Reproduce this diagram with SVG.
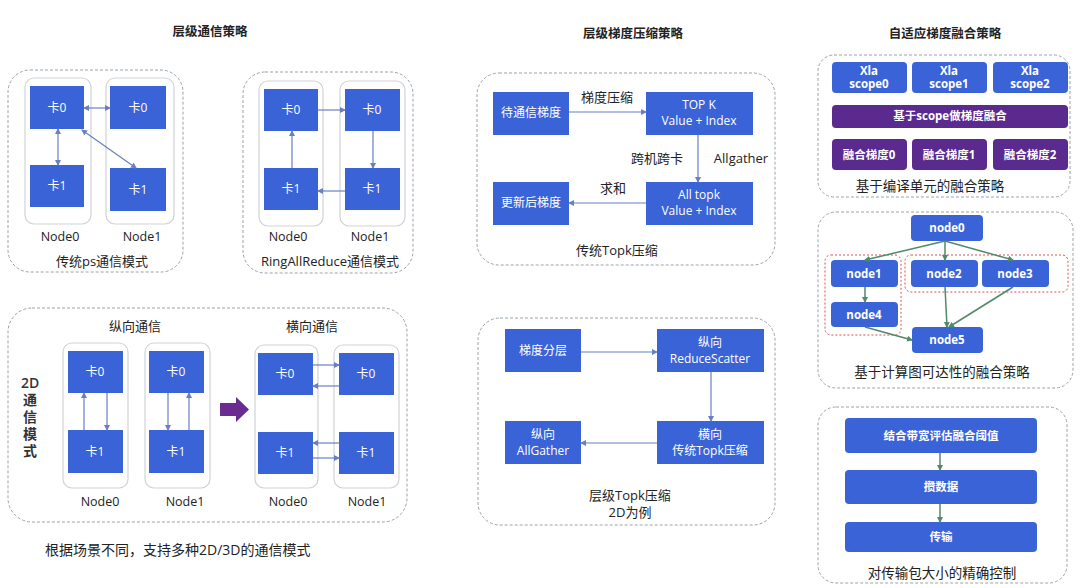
<svg xmlns="http://www.w3.org/2000/svg" width="1080" height="588" viewBox="0 0 1080 588">
<style>
text{font-family:"Open Sans","Noto Sans CJK SC",sans-serif;}
.t{font-size:12.5px;font-weight:bold;fill:#222;text-anchor:middle}
.lb{font-size:13px;fill:#222;text-anchor:middle}
.nl{font-size:12.5px;fill:#222;text-anchor:middle}
.cap{font-size:13.5px;fill:#222;text-anchor:middle}
.bt{font-size:12px;fill:#fff;text-anchor:middle}
.bb{font-size:11.5px;fill:#fff;text-anchor:middle;font-weight:bold}
.outer{fill:none;stroke:#9aa3ad;stroke-width:1;stroke-dasharray:3 2}
.ctn{fill:#fff;stroke:#cfd3d8;stroke-width:1.2}
.blue{fill:#3b63d8}
.rblue{fill:#3b63d8}
.purp{fill:#5a2a8e}
.red{fill:none;stroke:#d9534f;stroke-width:1;stroke-dasharray:2 2}
.ln{fill:none;stroke:#6a7fc0;stroke-width:1.2}
.gn{fill:none;stroke:#4f8a6a;stroke-width:1.5}
</style>
<defs>
<marker id="a" viewBox="0 0 6 6" refX="5" refY="3" markerWidth="5" markerHeight="5" orient="auto-start-reverse"><path d="M0,0L6,3L0,6z" fill="#6a7fc0"/></marker>
<marker id="g" viewBox="0 0 6 6" refX="5" refY="3" markerWidth="4" markerHeight="4" orient="auto"><path d="M0,0L6,3L0,6z" fill="#4f8a6a"/></marker>
</defs>
<rect width="1080" height="588" fill="#fff"/>

<g id="titles">
<text class="t" x="210" y="36">层级通信策略</text>
<text class="t" x="633" y="38">层级梯度压缩策略</text>
<text class="t" x="945" y="38">自适应梯度融合策略</text>
</g>

<g id="ps">
<rect class="outer" x="8" y="70" width="175" height="202" rx="22"/>
<rect class="ctn" x="25" y="78" width="66" height="146" rx="9"/>
<rect class="ctn" x="106" y="78" width="68" height="146" rx="9"/>
<rect class="blue" x="30" y="86" width="54" height="43"/><text class="bt" x="57" y="112">卡0</text>
<rect class="blue" x="30" y="165" width="54" height="42"/><text class="bt" x="57" y="190">卡1</text>
<rect class="blue" x="110" y="86" width="56" height="43"/><text class="bt" x="138" y="112">卡0</text>
<rect class="blue" x="110" y="168" width="56" height="43"/><text class="bt" x="138" y="194">卡1</text>
<text class="nl" x="60" y="241">Node0</text>
<text class="nl" x="142" y="241">Node1</text>
<text class="lb" x="102" y="266">传统ps通信模式</text>
</g>

<g id="ring">
<rect class="outer" x="243" y="72" width="170" height="201" rx="22"/>
<rect class="ctn" x="259" y="81" width="64" height="145" rx="9"/>
<rect class="ctn" x="340" y="81" width="65" height="145" rx="9"/>
<rect class="blue" x="264" y="89" width="54" height="42"/><text class="bt" x="291" y="114">卡0</text>
<rect class="blue" x="264" y="168" width="54" height="42"/><text class="bt" x="291" y="193">卡1</text>
<rect class="blue" x="345" y="89" width="55" height="42"/><text class="bt" x="372" y="114">卡0</text>
<rect class="blue" x="345" y="168" width="55" height="42"/><text class="bt" x="372" y="193">卡1</text>
<text class="nl" x="288" y="241">Node0</text>
<text class="nl" x="370" y="241">Node1</text>
<text class="lb" x="330" y="266">RingAllReduce通信模式</text>
</g>

<g id="twod">
<rect class="outer" x="8" y="308" width="399" height="214" rx="24"/>
<text class="lb" x="135" y="331">纵向通信</text>
<text class="lb" x="312" y="331">横向通信</text>
<g font-size="14" font-weight="600" fill="#333">
<text x="21" y="388">2D</text>
<text x="23" y="405">通</text>
<text x="23" y="422">信</text>
<text x="23" y="439">模</text>
<text x="23" y="456">式</text>
</g>
<rect class="ctn" x="63" y="343" width="65" height="145" rx="9"/>
<rect class="ctn" x="145" y="343" width="65" height="145" rx="9"/>
<rect class="blue" x="68" y="351" width="55" height="42"/><text class="bt" x="95" y="376">卡0</text>
<rect class="blue" x="68" y="430" width="55" height="43"/><text class="bt" x="95" y="456">卡1</text>
<rect class="blue" x="149" y="351" width="55" height="42"/><text class="bt" x="176" y="376">卡0</text>
<rect class="blue" x="149" y="430" width="55" height="43"/><text class="bt" x="176" y="456">卡1</text>
<text class="nl" x="100" y="506">Node0</text>
<text class="nl" x="185" y="506">Node1</text>
<path d="M220,403H236V397L249,409.5L236,422V416H220Z" fill="#6a2c91"/>
<rect class="ctn" x="255" y="345" width="63" height="143" rx="9"/>
<rect class="ctn" x="334" y="345" width="65" height="143" rx="9"/>
<rect class="blue" x="258" y="353" width="55" height="42"/><text class="bt" x="285" y="378">卡0</text>
<rect class="blue" x="258" y="432" width="55" height="42"/><text class="bt" x="285" y="457">卡1</text>
<rect class="blue" x="339" y="353" width="55" height="42"/><text class="bt" x="366" y="378">卡0</text>
<rect class="blue" x="339" y="432" width="55" height="42"/><text class="bt" x="366" y="457">卡1</text>
<text class="nl" x="288" y="506">Node0</text>
<text class="nl" x="367" y="506">Node1</text>
</g>
<text x="45" y="555" font-size="14" fill="#222">根据场景不同，支持多种2D/3D的通信模式</text>

<g id="topk">
<rect class="outer" x="477" y="73" width="298" height="192" rx="22"/>
<rect class="blue" x="493" y="92" width="76" height="43"/><text class="bt" x="531" y="117">待通信梯度</text>
<rect class="blue" x="646" y="92" width="107" height="43"/><text class="bt" x="699" y="109">TOP K</text><text class="bt" x="699" y="125">Value + Index</text>
<rect class="blue" x="646" y="182" width="107" height="43"/><text class="bt" x="699" y="199">All topk</text><text class="bt" x="699" y="215">Value + Index</text>
<rect class="blue" x="493" y="182" width="76" height="43"/><text class="bt" x="531" y="207">更新后梯度</text>
<text class="lb" x="607" y="102">梯度压缩</text>
<text class="lb" x="657" y="163" font-size="14">跨机跨卡</text>
<text class="lb" x="741" y="163" font-size="14">Allgather</text>
<text class="lb" x="613" y="193">求和</text>
<text class="lb" x="617" y="255">传统Topk压缩</text>
</g>

<g id="htopk">
<rect class="outer" x="478" y="318" width="297" height="207" rx="22"/>
<rect class="blue" x="505" y="329" width="76" height="43"/><text class="bt" x="543" y="355">梯度分层</text>
<rect class="blue" x="657" y="329" width="107" height="43"/><text class="bt" x="710" y="347">纵向</text><text class="bt" x="710" y="363">ReduceScatter</text>
<rect class="blue" x="657" y="421" width="107" height="43"/><text class="bt" x="710" y="439">横向</text><text class="bt" x="710" y="455">传统Topk压缩</text>
<rect class="blue" x="505" y="421" width="76" height="43"/><text class="bt" x="543" y="439">纵向</text><text class="bt" x="543" y="455">AllGather</text>
<text class="lb" x="630" y="500">层级Topk压缩</text>
<text class="lb" x="630" y="517">2D为例</text>
</g>

<g id="scope">
<rect class="outer" x="818" y="55" width="252" height="142" rx="16"/>
<rect class="rblue" x="832" y="62" width="75" height="31" rx="4"/><text class="bb" x="869" y="75">Xla</text><text class="bb" x="869" y="88">scope0</text>
<rect class="rblue" x="912" y="62" width="75" height="31" rx="4"/><text class="bb" x="949" y="75">Xla</text><text class="bb" x="949" y="88">scope1</text>
<rect class="rblue" x="993" y="62" width="75" height="31" rx="4"/><text class="bb" x="1030" y="75">Xla</text><text class="bb" x="1030" y="88">scope2</text>
<rect class="purp" x="832" y="105" width="236" height="23" rx="4"/><text class="bb" x="950" y="120">基于scope做梯度融合</text>
<rect class="purp" x="832" y="139" width="75" height="31" rx="4"/><text class="bb" x="869" y="159">融合梯度0</text>
<rect class="purp" x="912" y="139" width="75" height="31" rx="4"/><text class="bb" x="949" y="159">融合梯度1</text>
<rect class="purp" x="993" y="139" width="75" height="31" rx="4"/><text class="bb" x="1030" y="159">融合梯度2</text>
<text class="cap" x="930" y="191">基于编译单元的融合策略</text>
</g>

<g id="graph">
<rect class="outer" x="818" y="212" width="255" height="176" rx="18"/>
<rect class="red" x="825" y="255" width="76" height="80" rx="6"/>
<rect class="red" x="905" y="255" width="163" height="37" rx="6"/>
<rect class="rblue" x="911" y="215" width="72" height="26" rx="4"/><text class="bb" x="947" y="232">node0</text>
<rect class="rblue" x="831" y="260" width="67" height="27" rx="4"/><text class="bb" x="864" y="278">node1</text>
<rect class="rblue" x="911" y="260" width="67" height="27" rx="4"/><text class="bb" x="944" y="278">node2</text>
<rect class="rblue" x="982" y="260" width="67" height="27" rx="4"/><text class="bb" x="1015" y="278">node3</text>
<rect class="rblue" x="831" y="302" width="67" height="25" rx="4"/><text class="bb" x="864" y="319">node4</text>
<rect class="rblue" x="912" y="327" width="71" height="26" rx="4"/><text class="bb" x="947" y="344">node5</text>
<text class="cap" x="942" y="377" font-size="14">基于计算图可达性的融合策略</text>
</g>

<g id="packet">
<rect class="outer" x="818" y="407" width="249" height="176" rx="18"/>
<rect class="rblue" x="845" y="418" width="192" height="35" rx="4"/><text class="bb" x="941" y="440">结合带宽评估融合阈值</text>
<rect class="rblue" x="845" y="470" width="192" height="34" rx="4"/><text class="bb" x="941" y="491">攒数据</text>
<rect class="rblue" x="845" y="522" width="192" height="30" rx="4"/><text class="bb" x="941" y="541">传输</text>
<text class="cap" x="942" y="578" font-size="14">对传输包大小的精确控制</text>
</g>

<g id="connectors">
<path class="ln" d="M84,108H110" marker-start="url(#a)" marker-end="url(#a)"/>
<path class="ln" d="M58,129V165" marker-start="url(#a)" marker-end="url(#a)"/>
<path class="ln" d="M82,130L136,168" marker-start="url(#a)" marker-end="url(#a)"/>
<path class="ln" d="M318,110H345" marker-end="url(#a)"/>
<path class="ln" d="M373,131V168" marker-end="url(#a)"/>
<path class="ln" d="M345,191H318" marker-end="url(#a)"/>
<path class="ln" d="M292,168V131" marker-end="url(#a)"/>
<path class="ln" d="M84,430V393" marker-end="url(#a)"/>
<path class="ln" d="M107,393V430" marker-end="url(#a)"/>
<path class="ln" d="M168,393V430" marker-end="url(#a)"/>
<path class="ln" d="M189,430V393" marker-end="url(#a)"/>
<path class="ln" d="M313,365H339" marker-end="url(#a)"/>
<path class="ln" d="M339,386H313" marker-end="url(#a)"/>
<path class="ln" d="M339,443H313" marker-end="url(#a)"/>
<path class="ln" d="M313,458H339" marker-end="url(#a)"/>
<path class="ln" d="M569,112H646" marker-end="url(#a)"/>
<path class="ln" d="M698,135V182" marker-end="url(#a)"/>
<path class="ln" d="M646,203H569" marker-end="url(#a)"/>
<path class="ln" d="M581,352H657" marker-end="url(#a)"/>
<path class="ln" d="M711,372V421" marker-end="url(#a)"/>
<path class="ln" d="M657,443H581" marker-end="url(#a)"/>
<path class="gn" d="M945,241L865,260" marker-end="url(#g)"/>
<path class="gn" d="M945,241V260" marker-end="url(#g)"/>
<path class="gn" d="M945,241L1013,260" marker-end="url(#g)"/>
<path class="gn" d="M865,287V302" marker-end="url(#g)"/>
<path class="gn" d="M945,287L947,327" marker-end="url(#g)"/>
<path class="gn" d="M1013,287L949,327" marker-end="url(#g)"/>
<path class="gn" d="M865,327L912,340" marker-end="url(#g)"/>
<path class="gn" d="M940,453V470" marker-end="url(#g)"/>
<path class="gn" d="M940,504V522" marker-end="url(#g)"/>
</g>
</svg>
